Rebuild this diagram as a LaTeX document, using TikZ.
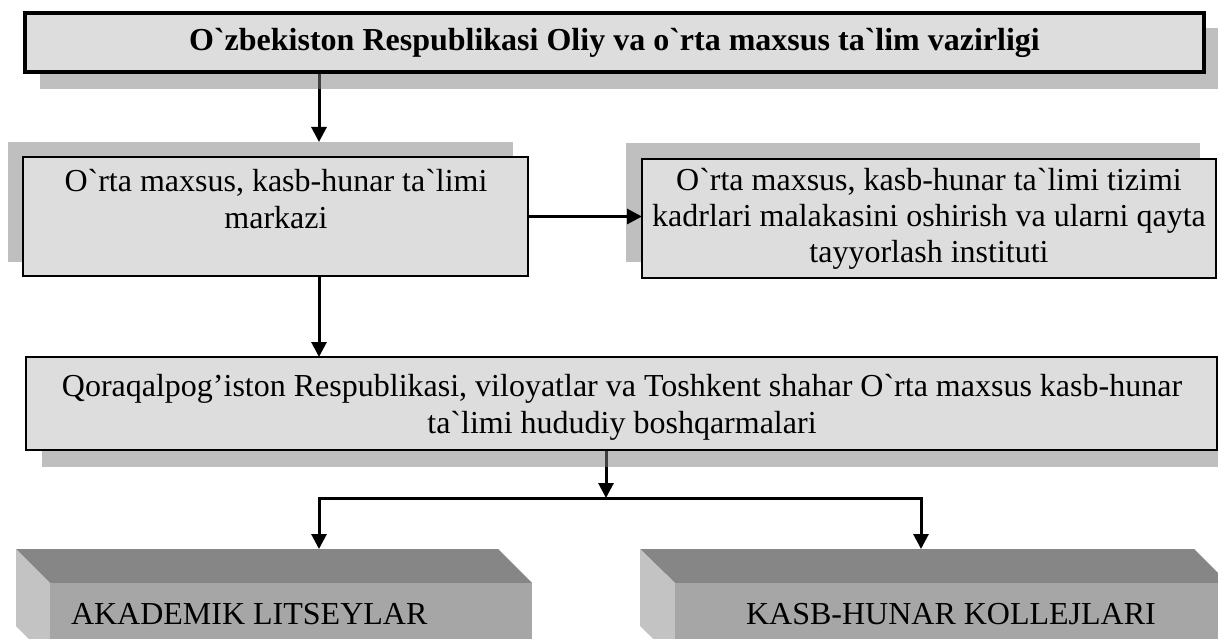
\documentclass[tikz,border=0pt]{standalone}
\usepackage{fontspec}
\newfontfamily\tnr{Liberation Serif}
\usetikzlibrary{arrows.meta}
\definecolor{boxfill}{HTML}{DDDDDD}
\definecolor{shadowc}{HTML}{808080}
\definecolor{topface}{HTML}{868686}
\definecolor{frontface}{HTML}{A6A6A6}
\definecolor{sideface}{HTML}{C3C3C3}
\pgfdeclarelayer{bg}
\pgfsetlayers{bg,main}
\begin{document}
\begin{tikzpicture}[x=1pt,y=-1pt,
  every node/.style={font=\tnr\fontsize{32pt}{37pt}\selectfont, inner sep=0pt, outer sep=0pt},
  box/.style={draw=black, line width=1.8pt, fill=boxfill, rectangle},
  shade/.style={fill=shadowc, fill opacity=0.5, draw=none, rectangle},
  txt/.style={align=center},
  arr/.style={line width=3pt, -{Triangle[length=15pt,width=15pt]}},
  conn/.style={line width=3pt}]
\useasboundingbox (0,0) rectangle (1218,639);
\clip (0,0) rectangle (1218,639);

% coordinates for connector columns
\coordinate (xa) at (319,0);
\coordinate (xb) at (606,0);
\coordinate (xc) at (921,0);
\coordinate (j) at (606,498);
\coordinate (b5n) at (319,549);
\coordinate (b6n) at (921,549);

% top box
\node[shade, minimum width=1180pt, minimum height=61pt] (s1) at (630,58.5) {};
\node[box, line width=3.5pt, minimum width=1179pt, minimum height=59pt,
      font=\tnr\bfseries\fontsize{32pt}{37pt}\selectfont] (t) at (614.5,42.5)
      {O`zbekiston Respublikasi Oliy va o`rta maxsus ta`lim vazirligi};

% box 2
\node[shade, minimum width=505pt, minimum height=120pt] (s2) at (260.5,202) {};
\node[box, minimum width=505pt, minimum height=119pt] (b2) at (275.5,216.5) {};
\node[txt] (b2t) at (276,199) {O`rta maxsus, kasb-hunar ta`limi\\markazi};

% box 3
\node[shade, minimum width=574pt, minimum height=119pt] (s3) at (913,202.5) {};
\node[box, txt, minimum width=574pt, minimum height=119pt,
      font=\tnr\fontsize{32pt}{36pt}\selectfont] (b3) at (929,218.5)
      {O`rta maxsus, kasb-hunar ta`limi tizimi\\kadrlari malakasini oshirish va ularni qayta\\tayyorlash instituti};

% box 4
\node[shade, minimum width=1191pt, minimum height=94pt] (s4) at (637.5,420) {};
\node[box, minimum width=1191pt, minimum height=93pt] (b4) at (621.5,403.5) {};
\node[txt] (b4t) at (622,407) {Qoraqalpog’iston Respublikasi, viloyatlar va Toshkent shahar O`rta maxsus kasb-hunar\\ta`limi hududiy boshqarmalari};

% 3D boxes
\fill[topface] (16,549) -- (498,549) -- (532,583) -- (50,583) -- cycle;
\fill[sideface] (16,549) -- (50,583) -- (50,660) -- (16,626) -- cycle;
\fill[frontface] (50,583) rectangle (532,660);
\node[anchor=west] (b5) at (71,614) {AKADEMIK LITSEYLAR};

\fill[topface] (640,549) -- (1194,549) -- (1228,583) -- (675,583) -- cycle;
\fill[sideface] (640,549) -- (675,583) -- (675,660) -- (640,626) -- cycle;
\fill[frontface] (675,583) rectangle (1228,660);
\node (b6) at (951,614) {KASB-HUNAR KOLLEJLARI};

% connector drawn above the shadow of box 3
\draw[arr] (b2.east) -- (b2.east -| b3.west);

% connectors passing under the shadows
\begin{pgfonlayer}{bg}
\draw[arr] (t.south -| xa) -- (s2.north -| xa);
\draw[arr] (b2.south -| xa) -- (b4.north -| xa);
\draw[arr] (b4.south -| xb) -- (j);
\draw[arr] (j) -| (b5n);
\draw[arr] (j) -| (b6n);
\end{pgfonlayer}
\end{tikzpicture}
\end{document}
